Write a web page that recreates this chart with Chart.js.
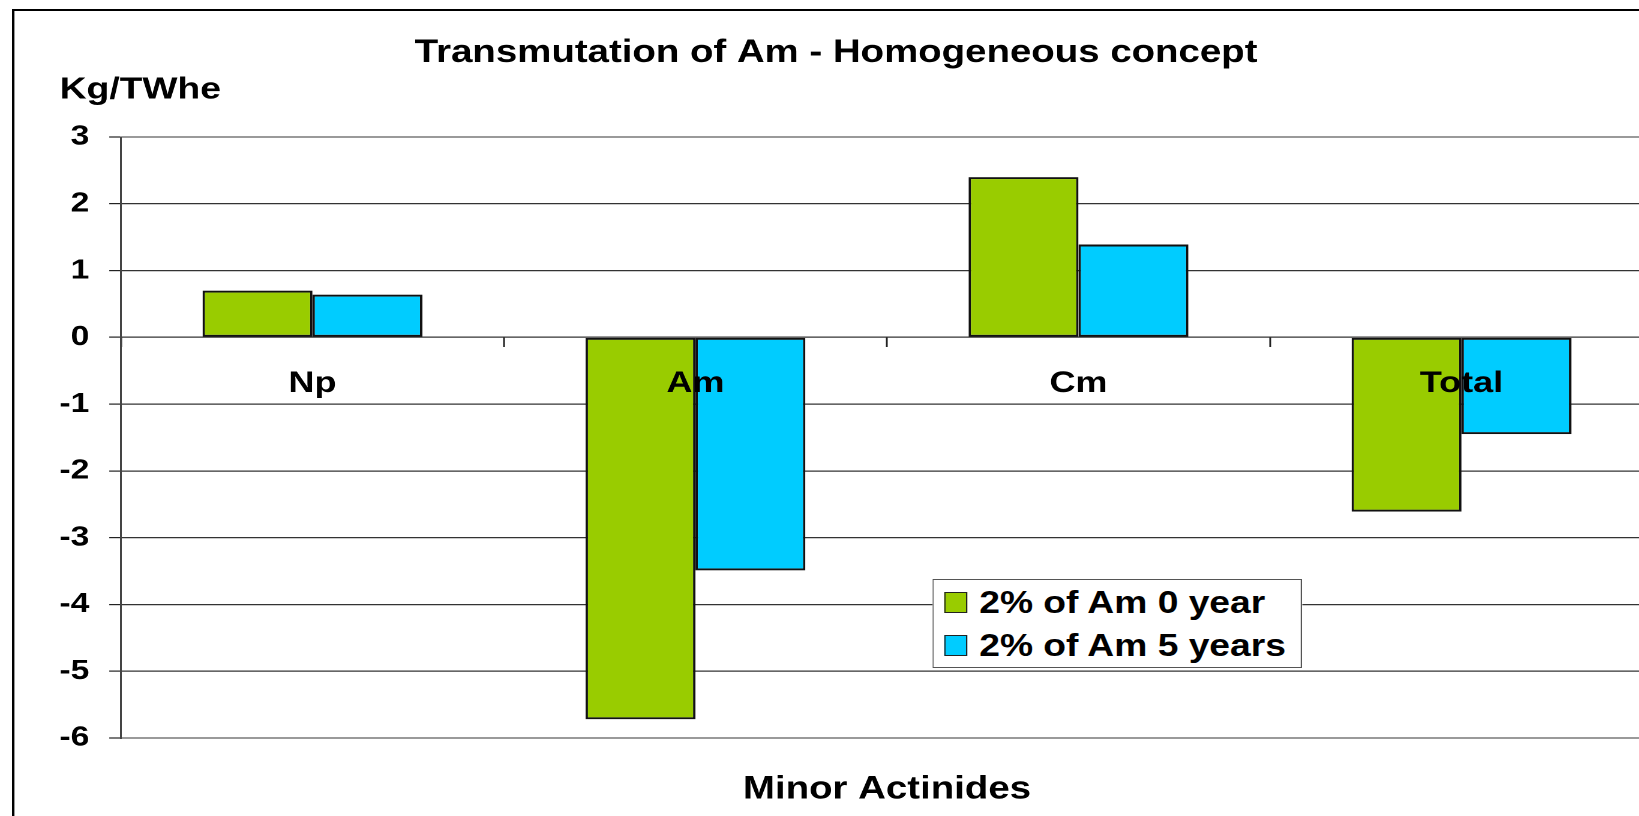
<!DOCTYPE html>
<html lang="en">
<head>
    <meta charset="UTF-8">
    <title>Transmutation of Am - Homogeneous concept</title>
    <script src="https://cdn.jsdelivr.net/npm/chart.js"></script>
    <style>
        body {
            margin: 0;
            background: #ffffff;
            overflow: hidden;
            width: 1639px;
            height: 816px;
        }
        /* the original picture is stretched sideways, so the whole chart is too */
        #stage {
            position: absolute;
            left: 0;
            top: 0;
            width: 1390px;
            height: 816px;
            transform: scaleX(1.2);
            transform-origin: 0 0;
        }
        #frame {
            position: absolute;
            left: 10px;
            top: 9px;
            width: 2000px;
            height: 2000px;
            border-left: 2px solid #000;
            border-top: 2.5px solid #000;
            pointer-events: none;
        }
        #chart {
            position: absolute;
            left: 0;
            top: 0;
        }
        #legend {
            position: absolute;
            left: 777px;
            top: 579px;
            width: 306px;
            height: 86px;
            padding-top: 1px;
            background: #ffffff;
            border: 1px solid #555;
            font: bold 31px "Liberation Sans", Arial, sans-serif;
            color: #000;
        }
        .item {
            display: flex;
            align-items: center;
            height: 43px;
            white-space: nowrap;
        }
        .swatch {
            width: 17px;
            height: 19px;
            margin-left: 9px;
            margin-right: 10px;
            border: 1.5px solid #222;
        }
    </style>
</head>
<body>
    <div id="stage">
        <div id="frame"></div>
        <canvas id="chart" width="1390" height="816"></canvas>
        <div id="legend"></div>
    </div>

    <script>
        const categories = ['Np', 'Am', 'Cm', 'Total'];
        const seriesNames = ['2% of Am 0 year', '2% of Am 5 years'];
        const am0Year = [0.70, -5.72, 2.40, -2.61];
        const am5Years = [0.64, -3.49, 1.39, -1.45];
        const yTicks = [3, 2, 1, 0, -1, -2, -3, -4, -5, -6];
        const colors = ['#99cc00', '#00ccff'];
        const unitText = 'Kg/TWhe';

        Chart.defaults.font.family = '"Liberation Sans", Arial, sans-serif';
        Chart.defaults.font.weight = 'bold';
        Chart.defaults.color = '#000';

        // "Kg/TWhe" sits flat above the value axis
        const unitLabel = {
            id: 'unitLabel',
            afterDraw(chart) {
                const ctx = chart.ctx;
                ctx.save();
                ctx.font = 'bold 31px "Liberation Sans", Arial, sans-serif';
                ctx.fillStyle = '#000';
                ctx.textBaseline = 'middle';
                ctx.fillText(unitText, chart.chartArea.left - 51, chart.chartArea.top - 47);
                ctx.restore();
            }
        };

        const chart = new Chart(document.getElementById('chart'), {
            type: 'bar',
            data: {
                labels: categories,
                datasets: [
                    {
                        label: seriesNames[0],
                        data: am0Year,
                        backgroundColor: colors[0],
                        borderColor: '#111',
                        borderWidth: 2,
                        borderSkipped: false,
                    },
                    {
                        label: seriesNames[1],
                        data: am5Years,
                        backgroundColor: colors[1],
                        borderColor: '#111',
                        borderWidth: 2,
                        borderSkipped: false,
                    },
                ],
            },
            options: {
                responsive: false,
                animation: false,
                devicePixelRatio: 2,
                categoryPercentage: 0.574,
                barPercentage: 1,
                layout: {
                    padding: { left: 16, right: 12.5, top: 0, bottom: 0 },
                },
                scales: {
                    x: {
                        ticks: { display: false },
                        grid: { display: false, drawTicks: false },
                        border: { display: false },
                        title: {
                            display: true,
                            text: 'Minor Actinides',
                            font: { size: 32, weight: 'bold' },
                            padding: { top: 0, bottom: 7 },
                        },
                        afterFit: (scale) => { scale.height = 78; },
                    },
                    // category names hang under the zero line, drawn over the bars
                    x2: {
                        type: 'category',
                        axis: 'x',
                        position: { y: 0 },
                        offset: true,
                        grid: {
                            offset: true,
                            drawOnChartArea: false,
                            drawTicks: true,
                            tickLength: 9.5,
                            tickColor: '#222',
                            tickWidth: 1.5,
                        },
                        border: { display: false },
                        ticks: {
                            z: 1,
                            font: { size: 30, weight: 'bold' },
                            padding: 18.7,
                            maxRotation: 0,
                        },
                    },
                    y: {
                        min: -6,
                        max: 3,
                        afterBuildTicks: (scale) => {
                            scale.ticks = yTicks.map(v => ({ value: v }));
                        },
                        afterFit: (scale) => { scale.width = 84.8; },
                        ticks: {
                            font: { size: 28, weight: 'bold' },
                            padding: 16.6,
                        },
                        grid: {
                            color: (c) => (c.tick && (c.tick.value === 3 || c.tick.value === -6)) ? '#9a9a9a' : '#333',
                            lineWidth: (c) => (c.tick && (c.tick.value === 3 || c.tick.value === -6)) ? 2 : 1.2,
                            tickLength: 9.75,
                            tickColor: '#222',
                            tickWidth: 1.2,
                        },
                        border: { color: '#444', width: 1.5 },
                    },
                },
                plugins: {
                    legend: { display: false },
                    tooltip: { enabled: false },
                    title: {
                        display: true,
                        text: 'Transmutation of Am - Homogeneous concept',
                        font: { size: 32, weight: 'bold' },
                        color: '#000',
                        padding: { top: 33.8, bottom: 64.8 },
                    },
                },
            },
            plugins: [unitLabel],
        });

        // legend box placed inside the plot like the original
        const legendBox = document.getElementById('legend');
        chart.data.datasets.forEach((ds) => {
            const row = document.createElement('div');
            row.className = 'item';
            const sw = document.createElement('span');
            sw.className = 'swatch';
            sw.style.background = ds.backgroundColor;
            const txt = document.createElement('span');
            txt.textContent = ds.label;
            row.appendChild(sw);
            row.appendChild(txt);
            legendBox.appendChild(row);
        });
    </script>
</body>
</html>
